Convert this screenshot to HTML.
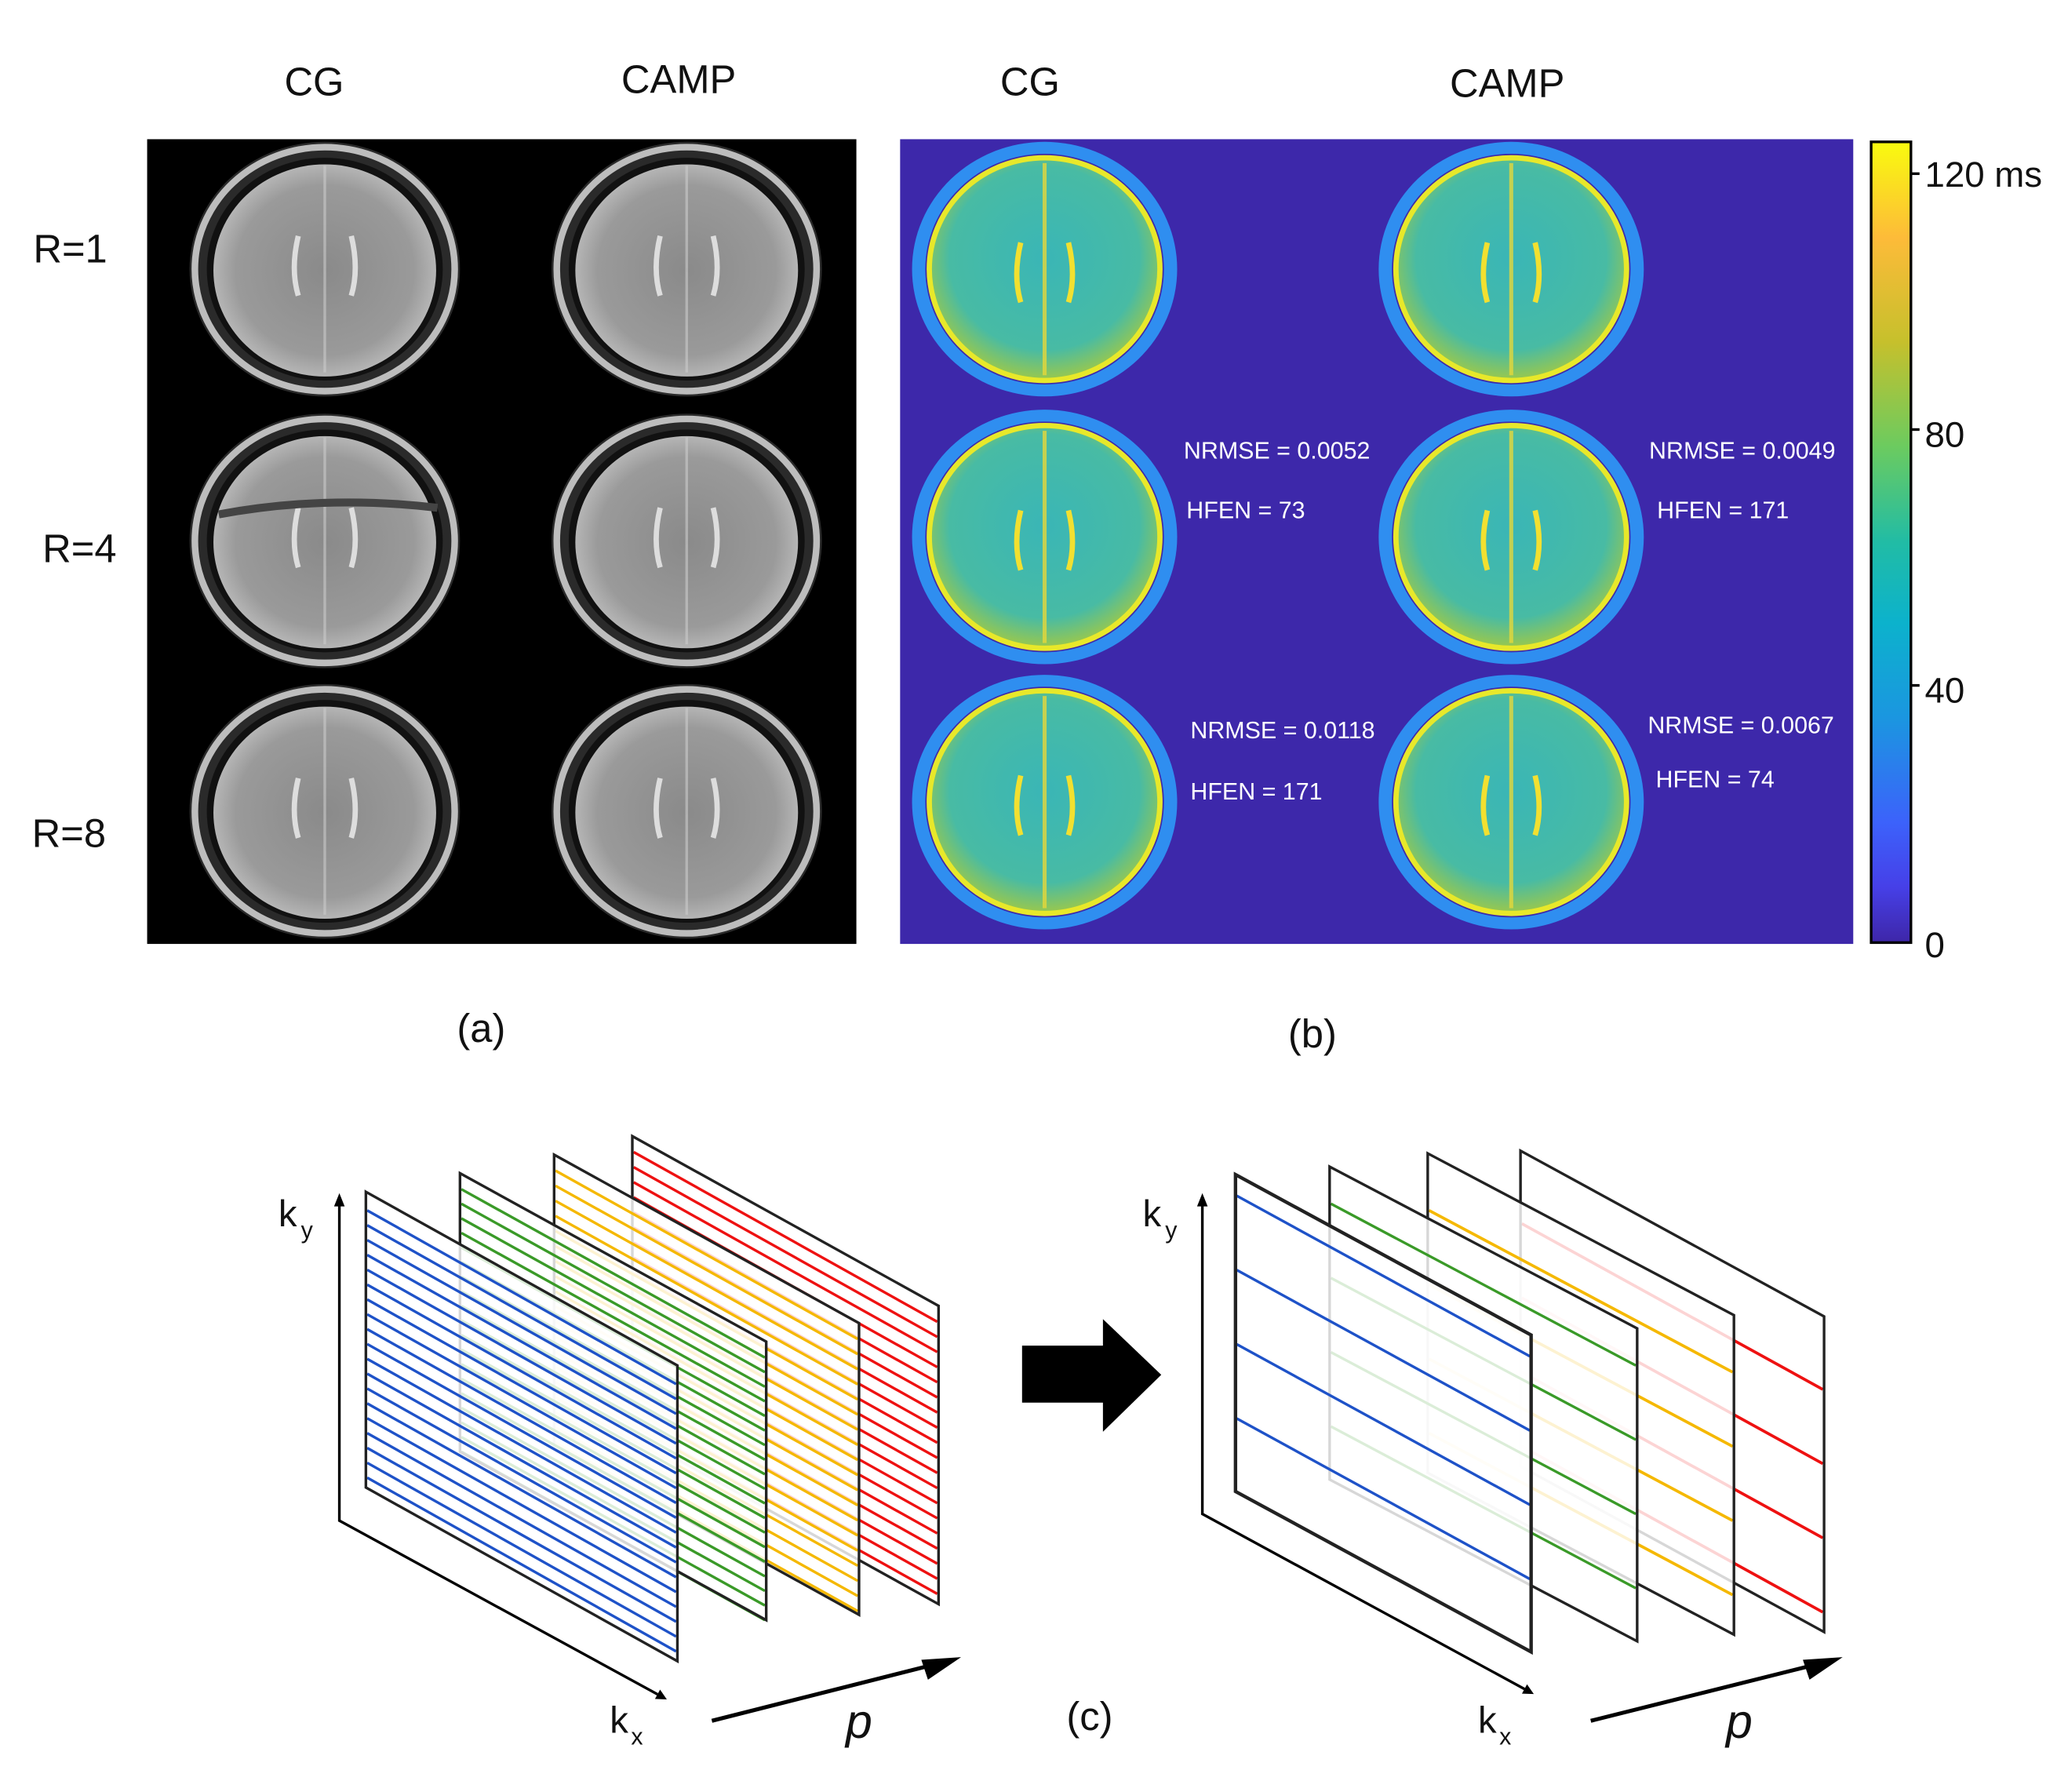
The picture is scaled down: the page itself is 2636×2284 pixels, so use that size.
<!DOCTYPE html>
<html><head><meta charset="utf-8"><style>
html,body{margin:0;padding:0;background:#fff;}
svg{display:block;}
text{font-family:"Liberation Sans","DejaVu Sans",sans-serif;}
</style></head><body>
<svg id="s" width="2636" height="2284" viewBox="0 0 1560 1351.7" preserveAspectRatio="none" xmlns="http://www.w3.org/2000/svg">
<defs>
<radialGradient id="gb" cx="50%" cy="50%" r="50%">
<stop offset="0" stop-color="#8a8a8a"/><stop offset="0.8" stop-color="#9a9a9a"/><stop offset="1" stop-color="#b5b5b5"/>
</radialGradient>
<radialGradient id="gc" cx="50%" cy="45%" r="55%">
<stop offset="0" stop-color="#3ab6b6"/><stop offset="0.75" stop-color="#48bba4"/><stop offset="1" stop-color="#9cc84a"/>
</radialGradient>
<linearGradient id="cb" x1="0" y1="0" x2="0" y2="1">
<stop offset="0" stop-color="#f9fb0e"/><stop offset="0.12" stop-color="#fdbb39"/><stop offset="0.25" stop-color="#c6c02c"/>
<stop offset="0.38" stop-color="#6ccb5f"/><stop offset="0.5" stop-color="#21bca5"/><stop offset="0.6" stop-color="#0cb2cc"/>
<stop offset="0.72" stop-color="#1b96e0"/><stop offset="0.85" stop-color="#3c62fb"/><stop offset="0.93" stop-color="#4640e8"/>
<stop offset="1" stop-color="#3e26a8"/>
</linearGradient>
</defs>
<g font-size="30" fill="#111">
<text x="237" y="72" text-anchor="middle">CG</text>
<text x="512" y="70" text-anchor="middle">CAMP</text>
<text x="777" y="72" text-anchor="middle">CG</text>
<text x="1137" y="73" text-anchor="middle">CAMP</text>
<text x="53" y="198" text-anchor="middle">R=1</text>
<text x="60" y="424" text-anchor="middle">R=4</text>
<text x="52" y="639" text-anchor="middle">R=8</text>
<text x="363" y="786" text-anchor="middle">(a)</text>
<text x="990" y="790" text-anchor="middle">(b)</text>
<text x="822" y="1305" text-anchor="middle">(c)</text>
</g>
<rect x="111" y="105" width="535" height="607" fill="#000"/>
<rect x="679" y="105" width="719" height="607" fill="#3d28aa"/>
<g id="brainsA"></g>
<g id="brainsB"></g>
<g fill="#fff" font-size="18">
<text x="893" y="346">NRMSE = 0.0052</text><text x="895" y="391">HFEN = 73</text>
<text x="1244" y="346">NRMSE = 0.0049</text><text x="1250" y="391">HFEN = 171</text>
<text x="898" y="557">NRMSE = 0.0118</text><text x="898" y="603">HFEN = 171</text>
<text x="1243" y="553">NRMSE = 0.0067</text><text x="1249" y="594">HFEN = 74</text>
</g>
<rect x="1411.5" y="107" width="30" height="604" fill="url(#cb)" stroke="#000" stroke-width="2"/>
<g stroke="#000" stroke-width="2"><line x1="1442" y1="131" x2="1448" y2="131"/><line x1="1442" y1="324" x2="1448" y2="324"/><line x1="1442" y1="517" x2="1448" y2="517"/></g>
<g font-size="27" fill="#111">
<text x="1452" y="141">120 ms</text><text x="1452" y="337">80</text><text x="1452" y="530">40</text><text x="1452" y="722">0</text>
</g>
<g id="diag"></g>
<g fill="#111" font-size="28">
<text x="210" y="925">k</text><text x="227" y="934" font-size="18">y</text>
<text x="460" y="1307">k</text><text x="476" y="1316" font-size="18">x</text>
<text x="638" y="1311" font-style="italic" font-size="36">p</text>
<text x="862" y="925">k</text><text x="879" y="934" font-size="18">y</text>
<text x="1115" y="1307">k</text><text x="1131" y="1316" font-size="18">x</text>
<text x="1302" y="1311" font-style="italic" font-size="36">p</text>
</g>
<rect x="771" y="1015" width="63" height="43" fill="#000"/>
<polygon points="832,995 876,1037 832,1080" fill="#000"/>
</svg>
<script>
const NS="http://www.w3.org/2000/svg";
function el(p,t,a){const e=document.createElementNS(NS,t);for(const k in a)e.setAttribute(k,a[k]);p.appendChild(e);return e;}
const A=document.getElementById('brainsA');
[[245,203],[518,203],[245,408],[518,408],[245,612],[518,612]].forEach(([x,y],i)=>{
 el(A,'ellipse',{cx:x,cy:y,rx:102,ry:96,fill:'#2a2a2a'});
 el(A,'ellipse',{cx:x,cy:y,rx:98,ry:92,fill:'none',stroke:'#bdbdbd','stroke-width':5});
 el(A,'ellipse',{cx:x,cy:y,rx:89,ry:84,fill:'#111'});
 el(A,'ellipse',{cx:x,cy:y+1,rx:84,ry:80,fill:'url(#gb)'});
 el(A,'line',{x1:x,y1:y-78,x2:x,y2:y+78,stroke:'#ccc','stroke-width':2,opacity:.6});
 el(A,'path',{d:`M${x-20} ${y-25} q-6 25 0 45 M${x+20} ${y-25} q6 25 0 45`,stroke:'#ddd','stroke-width':4,fill:'none'});
 if(i==2) el(A,'path',{d:`M${x-80} ${y-20} q80 -15 165 -5`,stroke:'#444','stroke-width':6,fill:'none'});
});
const B=document.getElementById('brainsB');
[[788,203],[1140,203],[788,405],[1140,405],[788,605],[1140,605]].forEach(([x,y])=>{
 el(B,'ellipse',{cx:x,cy:y,rx:100,ry:96,fill:'#2f8ef0'});
 el(B,'ellipse',{cx:x,cy:y,rx:90,ry:87,fill:'#3d28aa'});
 el(B,'ellipse',{cx:x,cy:y,rx:87,ry:84,fill:'url(#gc)',stroke:'#e8e82a','stroke-width':4});
 el(B,'line',{x1:x,y1:y-80,x2:x,y2:y+80,stroke:'#e6d83a','stroke-width':3,opacity:.8});
 el(B,'path',{d:`M${x-18} ${y-20} q-6 25 0 45 M${x+18} ${y-20} q6 25 0 45`,stroke:'#f2e030','stroke-width':4,fill:'none'});
});
const D=document.getElementById('diag');
function plane(tl,w,dy,h,col,n,sw,bw){
 const [x,y]=tl;
 el(D,'polygon',{points:`${x},${y} ${x+w},${y+dy} ${x+w},${y+dy+h} ${x},${y+h}`,fill:'#fff','fill-opacity':0.82,stroke:'none'});
 for(let i=0;i<n.n;i++){const yy=y+n.o+i*n.s;el(D,'line',{x1:x+1,y1:yy,x2:x+w-1,y2:yy+dy,stroke:col,'stroke-width':sw});}
 el(D,'polygon',{points:`${x},${y} ${x+w},${y+dy} ${x+w},${y+dy+h} ${x},${y+h}`,fill:'none',stroke:'#222','stroke-width':bw});
}
function axes(o,top,end){
 el(D,'polyline',{points:`${o[0]},${top+8} ${o[0]},${o[1]} ${end[0]},${end[1]}`,fill:'none',stroke:'#000','stroke-width':2});
 el(D,'polygon',{points:`${o[0]-4},${top+10} ${o[0]},${top} ${o[0]+4},${top+10}`,fill:'#000'});
 const a=Math.atan2(end[1]-o[1],end[0]-o[0]);const ex=end[0]+8*Math.cos(a),ey=end[1]+8*Math.sin(a);
 el(D,'polygon',{points:`${ex},${ey} ${end[0]-4*Math.sin(a)},${end[1]+4*Math.cos(a)} ${end[0]+4*Math.sin(a)},${end[1]-4*Math.cos(a)}`,fill:'#000'});
}
function parrow(x1,y1,x2,y2){
 el(D,'line',{x1:x1,y1:y1,x2:x2-18,y2:y2+5,stroke:'#000','stroke-width':3});
 el(D,'polygon',{points:`${x2},${y2} ${x2-30},${y2+2} ${x2-25},${y2+17}`,fill:'#000'});
}
// left
axes([256,1147],900,[496,1278]);
plane([477,857],231,128,225,'#ee1111',{n:19,o:12,s:11.4},2,2);
plane([418,871],230,127,220,'#f5b800',{n:19,o:12,s:11.4},2,2);
plane([347,885],231,127,210,'#3a9a28',{n:19,o:12,s:11},2,2);
plane([276,899],235,131,223,'#1e52c8',{n:19,o:14,s:11.2},2,2);
parrow(537,1298,725,1250);
// right
axes([907,1142],900,[1150,1274]);
plane([1147,868],229,125,238,'#ee1111',{n:4,o:55,s:56},2.2,2);
plane([1077,870],231,122,241,'#f5b800',{n:4,o:43,s:56},2.2,2);
plane([1003,880],232,122,236,'#3a9a28',{n:4,o:28,s:56},2,2);
plane([932,886],223,121,239,'#1e52c8',{n:4,o:16,s:56},2,2.6);
parrow(1200,1298,1390,1250);
</script>
</body></html>
